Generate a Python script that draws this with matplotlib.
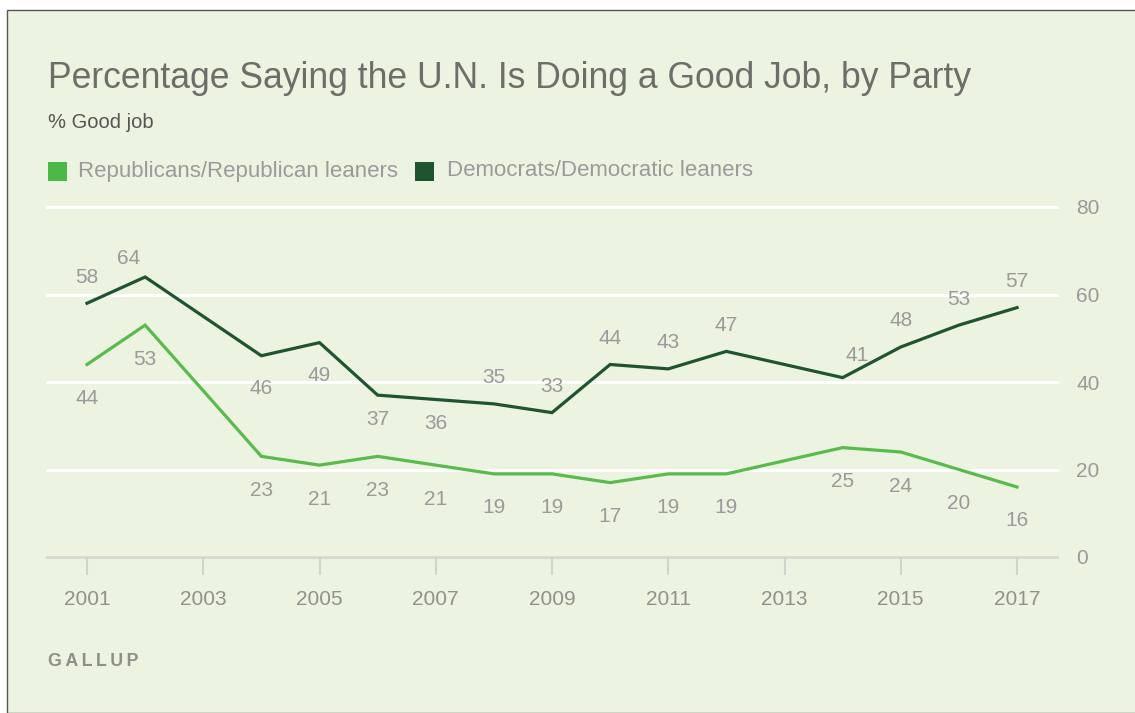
import matplotlib.pyplot as plt
from matplotlib.patches import Rectangle

years = [2001, 2002, 2004, 2005, 2006, 2007, 2008, 2009, 2010, 2011, 2012, 2014, 2015, 2016, 2017]
dem = [58, 64, 46, 49, 37, 36, 35, 33, 44, 43, 47, 41, 48, 53, 57]
rep = [44, 53, 23, 21, 23, 21, 19, 19, 17, 19, 19, 25, 24, 20, 16]
dem_below = [2004, 2005, 2006, 2007]
yticks = [0, 20, 40, 60, 80]
xticks = list(range(2001, 2018, 2))

BG = '#edf3e1'
DEM_C = '#1f5430'
REP_C = '#58bb4c'
LBL = '#9a9a9a'

plt.rcParams['font.family'] = ['Liberation Sans', 'DejaVu Sans']

fig = plt.figure(figsize=(11.35, 7.13), dpi=100)
fig.patch.set_facecolor('white')
# panel background with a thin border on top/left
fig.patches.append(Rectangle((7 / 1135, 0), 1.2, 1 - 10 / 713, transform=fig.transFigure,
                             facecolor=BG, edgecolor='#555555', linewidth=1, zorder=-10))

ax = fig.add_axes([47 / 1135, 1 - 557 / 713, 1010 / 1135, 350 / 713])
ax.set_facecolor('none')
ax.set_xlim(2001 - 40 / 58.125, 2017 + 40 / 58.125)
ax.set_ylim(0, 80)

for y in yticks[1:]:
    ax.axhline(y, color='white', lw=2.2, zorder=1, clip_on=False)
ax.axhline(0, color='#d6dad0', lw=2.2, zorder=1, clip_on=False)

ax.plot(years, rep, color=REP_C, lw=2.3, zorder=3, solid_joinstyle='miter')
ax.plot(years, dem, color=DEM_C, lw=2.3, zorder=3, solid_joinstyle='miter')

for x, v in zip(years, dem):
    if x in dem_below:
        dy = -24 if x >= 2006 else -33
    else:
        dy = 26
    dx = 0
    if x == 2002:
        dx = -17
        dy = 18
    if x == 2014:
        dx = 15
        dy = 22
    ax.annotate(str(v), (x, v), xytext=(dx, dy), textcoords='offset pixels',
                ha='center', va='center', fontsize=15, color=LBL)
for x, v in zip(years, rep):
    ax.annotate(str(v), (x, v), xytext=(0, -34), textcoords='offset pixels',
                ha='center', va='center', fontsize=15, color=LBL)

for s in ax.spines.values():
    s.set_visible(False)
ax.set_xticks(xticks)
ax.set_xticklabels([str(x) for x in xticks])
ax.set_yticks(yticks)
ax.yaxis.tick_right()
ax.tick_params(axis='x', length=13, width=1.5, color='#d0d4cb', pad=10.5,
               labelsize=15, labelcolor='#8f928c')
ax.tick_params(axis='y', length=0, pad=14, labelsize=15, labelcolor='#9a9a9a')
for t in ax.get_yticklabels():
    t.set_horizontalalignment('left')

fig.text(48 / 1135, 1 - 78 / 713, 'Percentage Saying the U.N. Is Doing a Good Job, by Party',
         fontsize=25.6, color='#6c6f69', va='center', ha='left')
fig.text(48 / 1135, 1 - 122 / 713, '% Good job', fontsize=14.5, color='#555555',
         va='center', ha='left')

fig.patches.append(Rectangle((48 / 1135, 1 - 181 / 713), 19 / 1135, 19 / 713,
                             transform=fig.transFigure, facecolor='#4db84a', edgecolor='none'))
fig.text(78 / 1135, 1 - 171 / 713, 'Republicans/Republican leaners', fontsize=16,
         color=LBL, va='center', ha='left')
fig.patches.append(Rectangle((415 / 1135, 1 - 181 / 713), 19 / 1135, 19 / 713,
                             transform=fig.transFigure, facecolor=DEM_C, edgecolor='none'))
fig.text(447 / 1135, 1 - 171 / 713, 'Democrats/Democratic leaners', fontsize=16,
         color=LBL, va='center', ha='left')

fig.text(48 / 1135, 1 - 662 / 713, 'G A L L U P'.replace(' ', '\u2009'), fontsize=12.8,
         color='#8c9088', va='center', ha='left', weight='bold')

fig.savefig('out.png', dpi=100, facecolor=fig.get_facecolor())
